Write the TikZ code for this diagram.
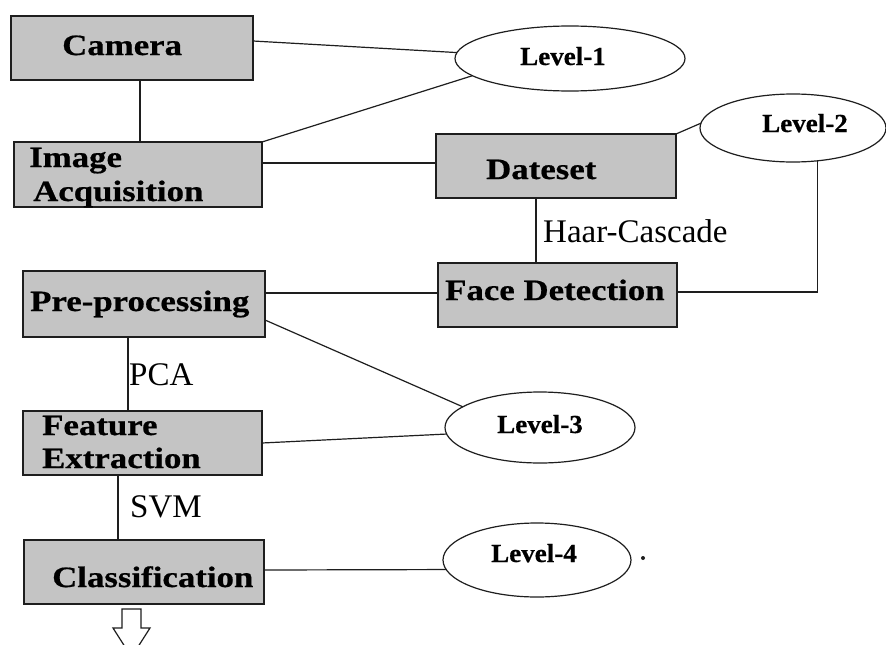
\documentclass[tikz,border=0pt]{standalone}
\usepackage{fontspec}
\setmainfont{Liberation Serif}
\newfontfamily\bx{Liberation Serif}[FakeStretch=1.18,FakeBold=0.6]
\newfontfamily\lv{Liberation Serif}[FakeStretch=1.04,FakeBold=0.5]
\usetikzlibrary{shapes.geometric}
\definecolor{boxgray}{RGB}{196,196,196}
\definecolor{ink}{RGB}{30,30,30}
\tikzset{
  stepbox/.style={draw=ink, line width=1.4pt, fill=boxgray, rectangle, inner sep=0pt, outer sep=0pt},
  lvl/.style={draw=ink, line width=1.2pt, ellipse, inner sep=0pt, outer sep=0pt},
  boxtxt/.style={anchor=base west, inner sep=0pt, font=\bx\bfseries\fontsize{29.5}{34}\selectfont},
  lvltxt/.style={anchor=base west, inner sep=0pt, font=\lv\bfseries\fontsize{26}{30}\selectfont},
  edgetxt/.style={anchor=base west, inner sep=0pt, font=\fontsize{33}{38}\selectfont},
  conn/.style={draw=ink, line width=1.2pt}
}
\begin{document}
\begin{tikzpicture}[x=1pt,y=-1pt]
\useasboundingbox (0,0) rectangle (886,645);
\clip (0,0) rectangle (886,645);
\fill[white] (0,0) rectangle (886,645);

% boxes
\node[stepbox, minimum width=242pt, minimum height=64pt] (cam) at (132,48) {};
\node[stepbox, minimum width=248pt, minimum height=65pt] (ia) at (138,174.5) {};
\node[stepbox, minimum width=240pt, minimum height=64pt] (ds) at (556,166) {};
\node[stepbox, minimum width=239pt, minimum height=64pt] (fd) at (557.5,295) {};
\node[stepbox, minimum width=242pt, minimum height=66pt] (pp) at (144,304) {};
\node[stepbox, minimum width=239pt, minimum height=64pt] (fe) at (142.5,443) {};
\node[stepbox, minimum width=240pt, minimum height=64pt] (cl) at (144,572) {};

% ellipses
\node[lvl, minimum width=230pt, minimum height=65pt] (lev1) at (570,58.5) {};
\node[lvl, minimum width=186pt, minimum height=68pt] (lev2) at (793,128) {};
\node[lvl, minimum width=190pt, minimum height=71pt] (lev3) at (540,427.5) {};
\node[lvl, minimum width=188pt, minimum height=74pt] (lev4) at (537,560) {};

% box texts
\node[boxtxt] (tcam) at (62,55) {Camera};
\node[boxtxt] (tia1) at (29,167) {Image};
\node[boxtxt] (tia2) at (33,201) {Acquisition};
\node[boxtxt] (tds) at (486,179) {Dateset};
\node[boxtxt] (tfd) at (445,300) {Face Detection};
\node[boxtxt] (tpp) at (30,311) {Pre-processing};
\node[boxtxt] (tfe1) at (42,435) {Feature};
\node[boxtxt] (tfe2) at (42,468) {Extraction};
\node[boxtxt] (tcl) at (52,587) {Classification};

% level texts
\node[lvltxt] (tl1) at (520,65) {Level-1};
\node[lvltxt] (tl2) at (762,132) {Level-2};
\node[lvltxt] (tl3) at (497,433) {Level-3};
\node[lvltxt] (tl4) at (491,562) {Level-4};

% connector labels
\node[edgetxt] (thaar) at (543,242) {Haar-Cascade};
\node[edgetxt] (tpca) at (129,385) {PCA};
\node[edgetxt] (tsvm) at (130,517) {SVM};

% connectors
\draw[conn] ([yshift=7pt]cam.east) -- (lev1.177);
\draw[conn] (ia.north east) -- (lev1.190);
\draw[conn] ([yshift=11.5pt]ia.east) -- ([yshift=11.5pt]ia.east -| ds.west);
\draw[conn] ([xshift=8pt]cam.south) -- ([xshift=8pt]cam.south |- ia.north);
\draw[conn] (ds.north east) -- (lev2.177);
\draw[conn] (lev2.307) |- ([yshift=3pt]fd.east);
\draw[conn] ([xshift=-20pt]ds.south) -- ([xshift=-20pt]ds.south |- fd.north);
\draw[conn] ([yshift=11pt]pp.east) -- ([yshift=11pt]pp.east -| fd.west);
\draw[conn] ([yshift=-16pt]pp.east) -- (lev3.165);
\draw[conn] (fe.east) -- (lev3.184);
\draw[conn] ([xshift=-16pt]pp.south) -- ([xshift=-16pt]pp.south |- fe.north);
\draw[conn] ([xshift=-24.5pt]fe.south) -- ([xshift=-24.5pt]fe.south |- cl.north);
\draw[conn] ([yshift=2pt]cl.east) -- (lev4.186);

% hollow down arrow
\draw[draw=ink, line width=1.2pt, fill=white, line join=miter]
  (122,609) -- (141,609) -- (141,628) -- (150,628) -- (131.5,657) -- (113,628) -- (122,628) -- cycle;

% stray dot
\fill[ink] (643,558) circle (2pt);
\end{tikzpicture}
\end{document}
